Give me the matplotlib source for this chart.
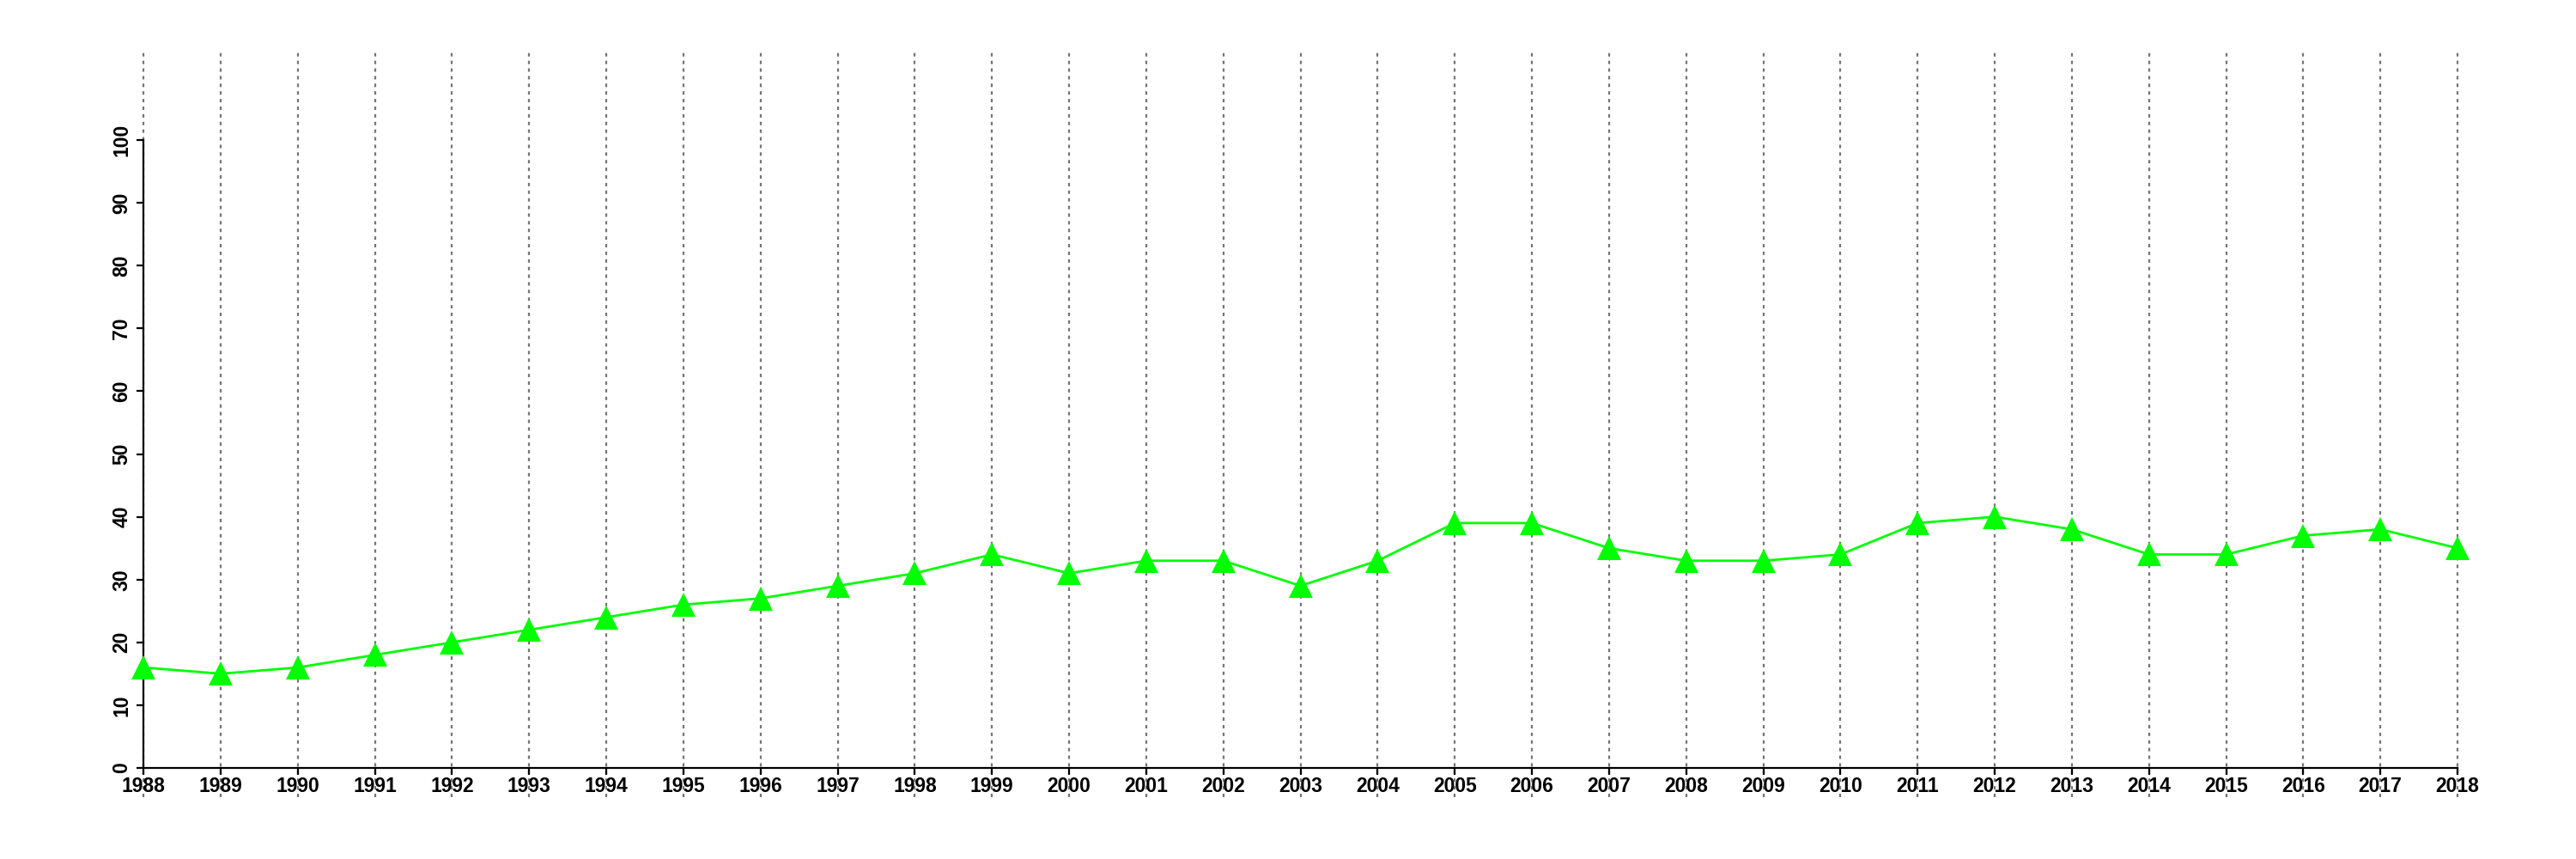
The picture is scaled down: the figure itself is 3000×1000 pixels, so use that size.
import matplotlib
matplotlib.use('Agg')
import matplotlib.pyplot as plt

years = list(range(1988, 2019))
values = [16, 15, 16, 18, 20, 22, 24, 26, 27, 29, 31, 34, 31, 33, 33, 29,
          33, 39, 39, 35, 33, 33, 34, 39, 40, 38, 34, 34, 37, 38, 35]
y_ticks = list(range(0, 101, 10))

plt.rcParams['font.family'] = ['Liberation Sans', 'DejaVu Sans']
plt.rcParams['font.weight'] = 'bold'

fig = plt.figure(figsize=(30, 10), dpi=100)
ax = fig.add_axes([0.0557, 0.106, 0.8983, 0.731])

# vertical dotted lines, running past the axes at top and bottom
ax.vlines(years, -4.6, 114, colors='#757575', linestyles=(0, (1.8, 2.2)),
          linewidth=1.6, clip_on=False, zorder=1)

ax.plot(years, values, color='#00ff00', linewidth=2, marker='^',
        markersize=20, markeredgewidth=0, zorder=3, clip_on=False)

ax.set_xlim(1988, 2018)
ax.set_ylim(0, 100)
ax.set_xticks(years)
ax.set_xticklabels([str(y) for y in years], fontsize=16.5, fontweight='bold')
ax.set_yticks(y_ticks)
ax.set_yticklabels([str(v) for v in y_ticks], fontsize=16.5, fontweight='bold',
                   rotation=90, va='center')

for s in ['top', 'right']:
    ax.spines[s].set_visible(False)
for s in ['left', 'bottom']:
    ax.spines[s].set_linewidth(1.6)
ax.tick_params(axis='both', length=6, width=1.6, direction='out')
ax.tick_params(axis='x', pad=1)
ax.tick_params(axis='y', pad=4)

fig.savefig('out.png', dpi=100)
